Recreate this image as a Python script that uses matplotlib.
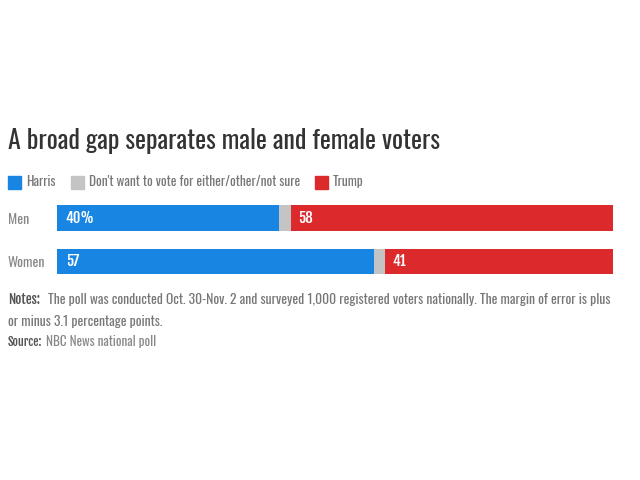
import matplotlib
matplotlib.use("Agg")
import matplotlib.pyplot as plt
from matplotlib.patches import Rectangle

groups = ["Men", "Women"]
harris = [40, 57]
other = [2, 2]
trump = [58, 41]
harris_labels = ["40%", "57"]
trump_labels = ["58", "41"]
series_names = ["Harris", "Don't want to vote for either/other/not sure", "Trump"]

plt.rcParams["font.family"] = ["Oswald", "DejaVu Sans"]
BOLD = ["Fjalla One", "Oswald", "DejaVu Sans"]

BLUE = "#1985e3"
GRAY = "#c4c4c4"
RED = "#dc2a2c"
LIGHT = 300

fig = plt.figure(figsize=(6.4, 4.8), dpi=100)
fig.patch.set_facecolor("white")

ax = fig.add_axes([57/640, 1 - 283.25/480, 556/640, 87/480])
ys = list(range(len(groups)))
h = 0.575
ax.barh(ys, harris, height=h, color=BLUE)
ax.barh(ys, other, left=harris, height=h, color=GRAY)
lefts = [a + b for a, b in zip(harris, other)]
ax.barh(ys, trump, left=lefts, height=h, color=RED)
for y, lab in zip(ys, harris_labels):
    ax.text(1.6, y, lab, color="white", fontsize=10.5, family=BOLD, va="center", ha="left")
for y, l, lab in zip(ys, lefts, trump_labels):
    ax.text(l + 1.4, y, lab, color="white", fontsize=10.5, family=BOLD, va="center", ha="left")
ax.set_xlim(0, 100)
ax.set_ylim(1.5, -0.5)
ax.set_yticks(ys)
ax.set_yticklabels(groups, fontsize=10, color="#888888", fontweight=LIGHT)
ax.tick_params(axis="y", length=0, pad=49 * 0.72)
ax.set_xticks([])
for s in ax.spines.values():
    s.set_visible(False)
for lab in ax.get_yticklabels():
    lab.set_horizontalalignment("left")

fig.text(8/640, 1 - 141/480, "A broad gap separates male and female voters", fontsize=18.7,
         color="#333333", va="center", ha="left")

ly = 1 - 182/480
colors = [BLUE, GRAY, RED]
xs = [8, 71, 315]
for x, c, n in zip(xs, colors, series_names):
    fig.patches.append(Rectangle((x/640, ly - 6.5/480), 13/640, 13/480, transform=fig.transFigure,
                                 color=c, figure=fig))
    fig.text((x + 18)/640, ly, n, fontsize=9.6, color="#777777", va="center", ha="left", fontweight=LIGHT)

fig.text(8/640, 1 - 300/480, "Notes:", fontsize=9.6, color="#555555", family=BOLD, va="center", ha="left")
fig.text(48/640, 1 - 300/480,
         "The poll was conducted Oct. 30-Nov. 2 and surveyed 1,000 registered voters nationally. The margin of error is plus",
         fontsize=9.8, color="#777777", va="center", ha="left", fontweight=LIGHT)
fig.text(8/640, 1 - 321/480, "or minus 3.1 percentage points.", fontsize=9.8, color="#777777", va="center", ha="left",
         fontweight=LIGHT)
fig.text(8/640, 1 - 342/480, "Source:", fontsize=8.6, color="#555555", family=BOLD, va="center", ha="left")
fig.text(46/640, 1 - 342/480, "NBC News national poll", fontsize=9.4, color="#888888", va="center", ha="left",
         fontweight=LIGHT)

fig.savefig("out.png", dpi=100, facecolor="white")
